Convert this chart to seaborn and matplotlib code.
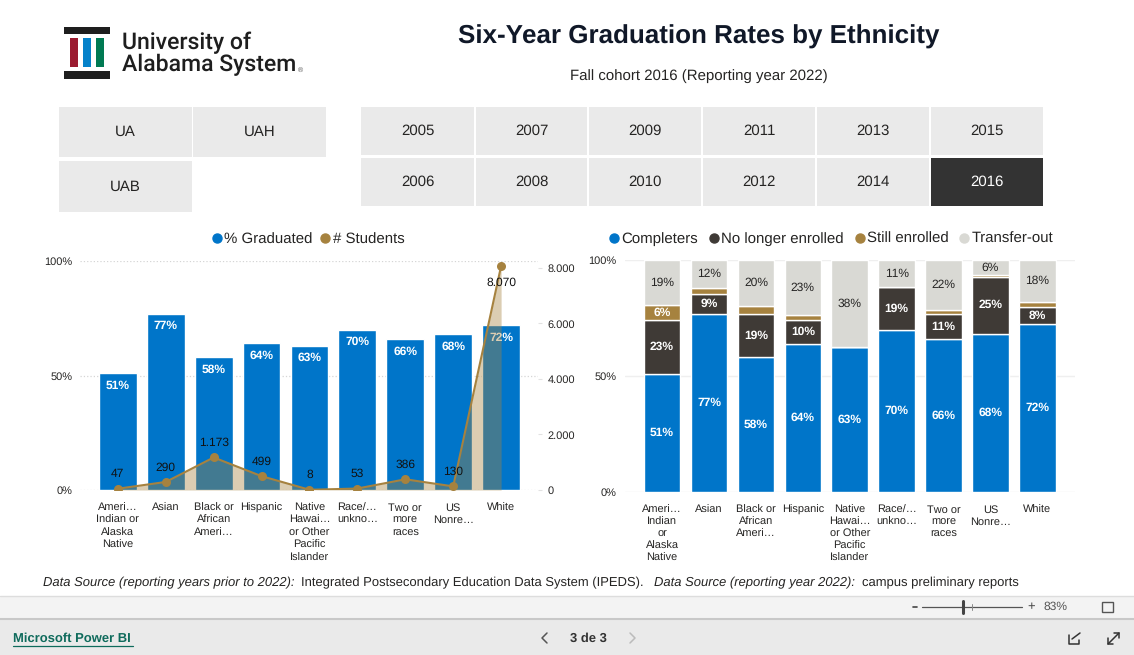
import numpy as np
import matplotlib
matplotlib.use("Agg")
import matplotlib.pyplot as plt
from matplotlib.lines import Line2D
from matplotlib.patches import Rectangle
from matplotlib.ticker import FuncFormatter
import seaborn as sns

sns.set_theme(style="white")
plt.rcParams['font.family'] = ['Liberation Sans', 'DejaVu Sans']
plt.rcParams['text.hinting'] = 'no_hinting'
plt.rcParams['text.hinting_factor'] = 1

# data
labels_left = ["Ameri…\nIndian or\nAlaska\nNative", "Asian", "Black or\nAfrican\nAmeri…", "Hispanic",
               "Native\nHawai…\nor Other\nPacific\nIslander", "Race/…\nunkno…", "Two or\nmore\nraces",
               "US\nNonre…", "White"]
labels_right = ["Ameri…\nIndian\nor\nAlaska\nNative", "Asian", "Black or\nAfrican\nAmeri…", "Hispanic",
                "Native\nHawai…\nor Other\nPacific\nIslander", "Race/…\nunkno…", "Two or\nmore\nraces",
                "US\nNonre…", "White"]
pct_graduated = [51, 77, 58, 64, 63, 70, 66, 68, 72]
students = [47, 290, 1173, 499, 8, 53, 386, 130, 8070]

completers = [50.9, 76.7, 58.0, 64.0, 62.4, 69.7, 65.9, 68.3, 72.2]
no_longer = [23.2, 8.6, 18.7, 10.1, 0, 18.6, 10.8, 24.4, 7.7]
still = [6.5, 2.5, 3.4, 2.2, 0, 0, 1.6, 1.0, 1.8]
transfer = [19.4, 12.2, 19.9, 23.7, 37.6, 11.7, 21.7, 6.3, 18.3]

completers_txt = ["51%", "77%", "58%", "64%", "63%", "70%", "66%", "68%", "72%"]
no_longer_txt = ["23%", "9%", "19%", "10%", "", "19%", "11%", "25%", "8%"]
still_txt = ["6%", "", "", "", "", "", "", "", ""]
transfer_txt = ["19%", "12%", "20%", "23%", "38%", "11%", "22%", "6%", "18%"]

campuses = ["UA", "UAH", "UAB"]
years_top = ["2005", "2007", "2009", "2011", "2013", "2015"]
years_bottom = ["2006", "2008", "2010", "2012", "2014", "2016"]

BLUE = "#0075C9"
DARK = "#3F3A36"
TAN = "#A6823F"
GREY = "#D9D9D4"
BTN = "#EAEAEA"
TXT = "#252423"
W, H = 1134, 655


def px_axes(x0, y0, x1, y1, **kw):
    # axes from pixel box, y counted from the top
    return fig.add_axes([x0 / W, 1 - y1 / H, (x1 - x0) / W, (y1 - y0) / H], **kw)


def box(x0, y0, x1, y1, color):
    bg.add_patch(Rectangle((x0, y0), x1 - x0, y1 - y0, color=color, lw=0))


fig = plt.figure(figsize=(W / 100, H / 100), dpi=100, facecolor="white")

# page furniture, in pixels
bg = fig.add_axes([0, 0, 1, 1])
bg.set_xlim(0, W)
bg.set_ylim(H, 0)
bg.axis("off")

# logo
box(64, 27, 110, 34, "#1E1E1E")
box(64, 71, 110, 79, "#1E1E1E")
box(70, 38, 78, 67, "#9B1B30")
box(83, 38, 91, 67, "#0582CA")
box(96, 38, 104, 67, "#007A53")
bg.text(122, 43, "University of", fontsize=16.7, color="#1E1E1E", va="center", family="Roboto", weight="medium")
bg.text(122, 65, "Alabama System", fontsize=16.7, color="#1E1E1E", va="center", family="Roboto", weight="medium")
bg.text(298, 70, "®", fontsize=5, color="#555555", va="center")

bg.text(699, 37, "Six-Year Graduation Rates by Ethnicity", fontsize=19, weight="bold", color="#101828",
        ha="center", va="center")
bg.text(699, 76, "Fall cohort 2016 (Reporting year 2022)", fontsize=11, color=TXT, ha="center", va="center")

# slicers
box(59, 107, 192, 157, BTN)
box(193, 107, 326, 157, BTN)
box(59, 161, 192, 212, BTN)
bg.text(125.5, 132, campuses[0], fontsize=11, ha="center", va="center", color=TXT)
bg.text(259.5, 132, campuses[1], fontsize=11, ha="center", va="center", color=TXT)
bg.text(125.5, 187, campuses[2], fontsize=11, ha="center", va="center", color=TXT)

col_edges = [(361, 474), (476, 587), (589, 701), (703, 815), (817, 929), (931, 1043)]
for (x0, x1), top, bottom in zip(col_edges, years_top, years_bottom):
    box(x0, 107, x1, 155, BTN)
    selected = bottom == "2016"
    box(x0, 158, x1, 206, "#333333" if selected else BTN)
    bg.text((x0 + x1) / 2, 131, top, fontsize=11, ha="center", va="center", color=TXT)
    bg.text((x0 + x1) / 2, 182, bottom, fontsize=11, ha="center", va="center",
            color="white" if selected else TXT)

# footer
bg.text(43, 583, "Data Source (reporting years prior to 2022):", fontsize=9.5, style="italic", color=TXT, va="center")
bg.text(301, 583, "Integrated Postsecondary Education Data System (IPEDS).", fontsize=9.5, color=TXT, va="center")
bg.text(654, 583, "Data Source (reporting year 2022):", fontsize=9.5, style="italic", color=TXT, va="center")
bg.text(862, 583, "campus preliminary reports", fontsize=9.5, color=TXT, va="center")

box(0, 596, W, 618, "#F3F3F3")
box(0, 618, W, 655, "#EAEAEA")
bg.plot([0, W], [595.5, 595.5], color="#DDDDDD", lw=1)
bg.plot([0, W], [618.5, 618.5], color="#C8C8C8", lw=1.5)
bg.plot([913, 917], [607, 607], color="#444444", lw=1.2)
bg.plot([922, 1022], [607, 607], color="#555555", lw=0.9)
bg.plot([963, 963], [601, 613], color="#444444", lw=2.2)
bg.plot([972, 972], [604, 610], color="#888888", lw=0.7)
bg.text(1031, 606.5, "+", fontsize=9, ha="center", va="center", color="#444444")
bg.text(1055, 607, "83%", fontsize=8.5, ha="center", va="center", color="#555555")
bg.add_patch(Rectangle((1102, 602), 11, 10, fill=False, ec="#555555", lw=1))

bg.text(13, 639, "Microsoft Power BI", fontsize=9.5, weight="bold", color="#0F6B5C", va="center")
bg.plot([13, 133], [646, 646], color="#0F6B5C", lw=0.9)
bg.text(588, 638, "3 de 3", fontsize=9.5, weight="bold", color="#333333", ha="center", va="center")
bg.plot([547, 542, 547], [633, 638, 643], color="#555555", lw=1.1)
bg.plot([630, 635, 630], [633, 638, 643], color="#BBBBBB", lw=1.1)
bg.plot([1069, 1069, 1079, 1079], [635, 644, 644, 640], color="#333333", lw=1.1)
bg.plot([1072, 1080], [639, 633], color="#333333", lw=1.1)
bg.plot([1108, 1119], [644, 633], color="#333333", lw=1.1)
bg.plot([1114, 1119, 1119], [633, 633, 638], color="#333333", lw=1.1)
bg.plot([1108, 1108, 1113], [638, 644, 644], color="#333333", lw=1.1)

# left chart
ax = px_axes(80, 261, 538, 490, facecolor="none")
sns.barplot(x=labels_left, y=pct_graduated, color=BLUE, saturation=1, width=0.79, ax=ax, zorder=2)
ax.set_xlim(-0.79, 8.77)
ax.set_ylim(0, 100)
ax.set_yticks([0, 50, 100])
ax.yaxis.set_major_formatter(FuncFormatter(lambda v, _: f"{v:.0f}%"))
ax.grid(axis="y", color="#D5D5D5", ls=":", lw=0.9)
ax.set_axisbelow(True)
ax.set_xlabel("")
ax.tick_params(axis="y", length=0, labelsize=8, labelcolor=TXT, pad=5.5)
ax.tick_params(axis="x", length=0, labelsize=8, labelcolor=TXT, pad=9)
for t in ax.get_xticklabels():
    t.set_linespacing(1.28)
sns.despine(ax=ax, left=True, bottom=True)

for i, v in enumerate(pct_graduated):
    ax.annotate(f"{v}%", (i, v), xytext=(0, -9), textcoords="offset points", ha="center", va="center",
                color="white", fontsize=8.3, weight="bold", zorder=6)

ax2 = ax.twinx()
ax2.patch.set_visible(False)
ax2.fill_between(range(len(students)), students, color=TAN, alpha=0.4, lw=0, zorder=3)
sns.lineplot(x=range(len(students)), y=students, color=TAN, lw=1.5, marker="o", markersize=6.5,
             markeredgewidth=0, ax=ax2, zorder=4)
ax2.set_ylim(0, 8252)
ax2.set_yticks([0, 2000, 4000, 6000, 8000])
ax2.yaxis.set_major_formatter(FuncFormatter(lambda v, _: f"{v:,.0f}".replace(",", ".")))
ax2.tick_params(axis="y", length=3, width=0.8, color="#E2E2E2", labelsize=8, labelcolor=TXT, pad=4)
ax2.set_ylabel("")
sns.despine(ax=ax2, left=True, bottom=True, right=True)

for i, v in enumerate(students):
    off = -12 if v > 8000 else 10.5
    ax2.annotate(f"{v:,}".replace(",", "."), (i, v), xytext=(0, off), textcoords="offset points",
                 ha="center", va="center", color="#111111", fontsize=8.3, zorder=7)

ax.legend(handles=[Line2D([], [], ls="", marker="o", color=BLUE, markersize=6.5, label="% Graduated"),
                   Line2D([], [], ls="", marker="o", color=TAN, markersize=6.5, label="# Students")],
          ncols=2, frameon=False, fontsize=11.1, loc="center", bbox_to_anchor=(0.495, 1.093),
          handlelength=1, handletextpad=0, columnspacing=0.3, labelcolor=TXT)

# right chart
ax3 = px_axes(625, 260, 1075, 492, facecolor="none")
bottom = np.zeros(len(completers))
series = [(completers, BLUE, completers_txt, "white", "bold"),
          (no_longer, DARK, no_longer_txt, "white", "bold"),
          (still, TAN, still_txt, "white", "bold"),
          (transfer, GREY, transfer_txt, TXT, "normal")]
for vals, col, txt, tcol, tw in series:
    sns.barplot(x=labels_right, y=vals, bottom=bottom, color=col, saturation=1, width=0.78, ax=ax3, zorder=2)
    for i, s in enumerate(txt):
        if s:
            ax3.text(i, bottom[i] + vals[i] / 2, s, ha="center", va="center", color=tcol, fontsize=8.3, weight=tw,
                     zorder=5)
    bottom = bottom + np.array(vals)
ax3.set_xlim(-0.79, 8.8)
ax3.set_ylim(0, 100)
ax3.set_yticks([0, 50, 100])
ax3.yaxis.set_major_formatter(FuncFormatter(lambda v, _: f"{v:.0f}%"))
ax3.grid(axis="y", color="#EFEFEF", lw=1)
ax3.set_axisbelow(True)
ax3.tick_params(axis="y", length=0, labelsize=8, labelcolor=TXT, pad=6)
ax3.tick_params(axis="x", length=0, labelsize=8, labelcolor=TXT, pad=9)
for t in ax3.get_xticklabels():
    t.set_linespacing(1.22)
sns.despine(ax=ax3, left=True, bottom=True)

ax3.legend(handles=[Line2D([], [], ls="", marker="o", color=BLUE, markersize=6.5, label="Completers"),
                    Line2D([], [], ls="", marker="o", color=DARK, markersize=6.5, label="No longer enrolled"),
                    Line2D([], [], ls="", marker="o", color=TAN, markersize=6.5, label="Still enrolled"),
                    Line2D([], [], ls="", marker="o", color=GREY, markersize=6.5, label="Transfer-out")],
           ncols=4, frameon=False, fontsize=10.7, loc="center", bbox_to_anchor=(0.456, 1.091),
           handlelength=1, handletextpad=0, columnspacing=0.55, labelcolor=TXT)

fig.savefig("out.png", dpi=100)
